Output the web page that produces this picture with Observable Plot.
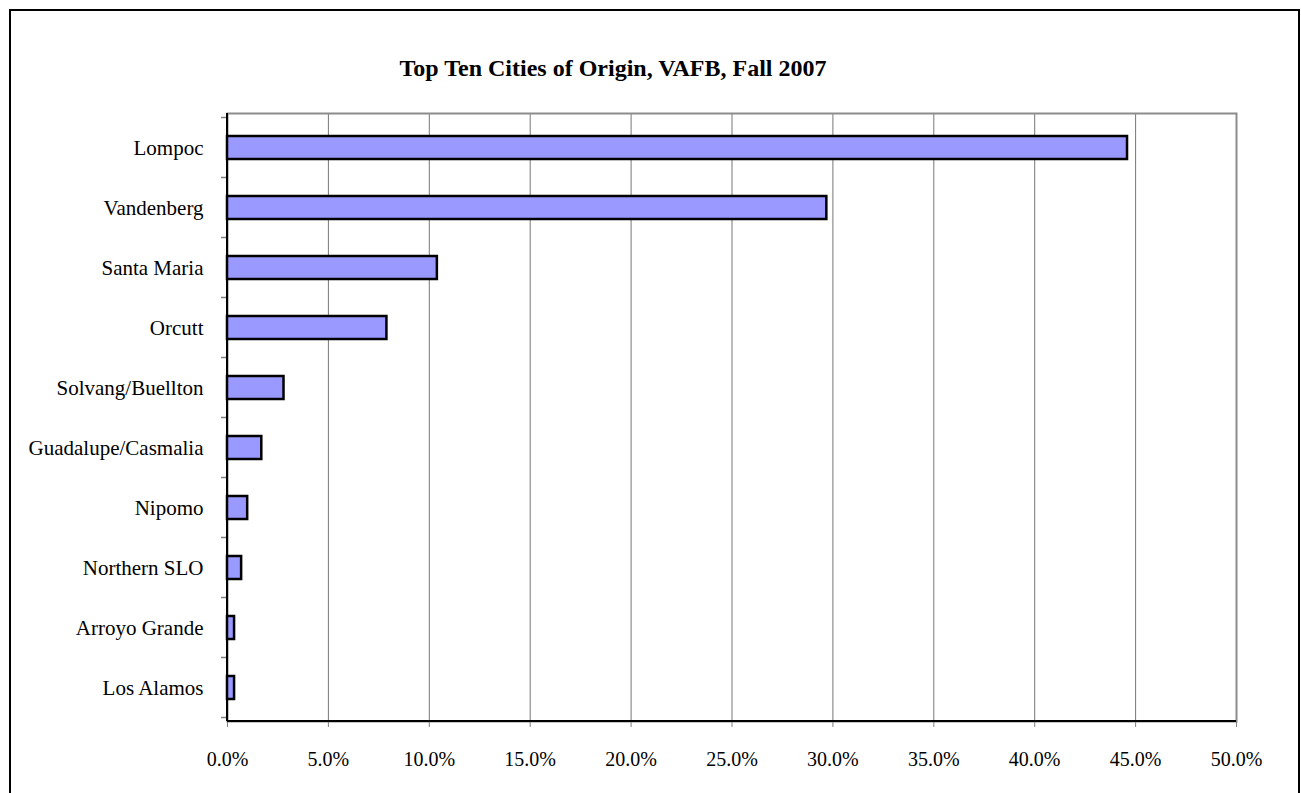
<!DOCTYPE html>
<html><head><meta charset="utf-8">
<script src="https://cdn.jsdelivr.net/npm/d3@7"></script>
<script src="https://cdn.jsdelivr.net/npm/@observablehq/plot@0.6"></script>
<style>
html,body{margin:0;padding:0;background:#fff;overflow:hidden;}
#wrap{position:relative;width:1301px;height:793px;}
#border{position:absolute;left:9px;top:9px;width:1291px;height:830px;border:2.5px solid #000;box-sizing:border-box;pointer-events:none;}
#title{position:absolute;left:0;width:1226px;top:55px;text-align:center;font:bold 24px "Liberation Serif", "Times New Roman", serif;color:#000;}
#chart{position:absolute;left:0;top:0;}
</style></head><body>
<div id="wrap"><div id="chart"></div><div id="border"></div><div id="title">Top Ten Cities of Origin, VAFB, Fall 2007</div></div>
<script>
const cities = ["Lompoc", "Vandenberg", "Santa Maria", "Orcutt", "Solvang/Buellton", "Guadalupe/Casmalia", "Nipomo", "Northern SLO", "Arroyo Grande", "Los Alamos"];
const shares = [0.446, 0.297, 0.104, 0.079, 0.028, 0.017, 0.010, 0.007, 0.0035, 0.0035];
const xTicks = [0, 0.05, 0.10, 0.15, 0.20, 0.25, 0.30, 0.35, 0.40, 0.45, 0.50];

const data = cities.map((c, i) => ({city: c, share: shares[i]}));

function axisLines(index, scales, values, dimensions) {
  const y = scales.y;
  const step = y(cities[1]) - y(cities[0]);
  const bw = typeof y.bandwidth === "function" ? y.bandwidth() : 0;
  const {marginLeft, marginTop, height, width, marginBottom, marginRight} = dimensions;
  const g = d3.create("svg:g");
  const bounds = cities.map(c => y(c) + bw / 2 - step / 2);
  bounds.push(y(cities[cities.length - 1]) + bw / 2 + step / 2);
  g.selectAll("line.t").data(bounds).join("line")
    .attr("x1", marginLeft - 6).attr("x2", marginLeft)
    .attr("y1", d => d).attr("y2", d => d)
    .attr("stroke", "#808080").attr("stroke-width", 1.5);
  g.append("line")
    .attr("x1", marginLeft).attr("x2", width - marginRight)
    .attr("y1", height - marginBottom).attr("y2", height - marginBottom)
    .attr("stroke", "#000").attr("stroke-width", 2);
  g.append("line")
    .attr("x1", marginLeft).attr("x2", marginLeft)
    .attr("y1", marginTop).attr("y2", height - marginBottom)
    .attr("stroke", "#000").attr("stroke-width", 2);
  return g.node();
}

const chart = Plot.plot({
  width: 1301,
  height: 793,
  marginLeft: 227,
  marginRight: 65,
  marginTop: 113,
  marginBottom: 72,
  style: {fontFamily: "'Liberation Serif', 'Times New Roman', serif", color: "#000", background: "transparent"},
  x: {domain: [0, 0.5], ticks: xTicks, label: null},
  y: {domain: cities, paddingInner: 0.62, paddingOuter: 0.31, label: null},
  marks: [
    Plot.gridX(xTicks, {stroke: "#777777", strokeOpacity: 1, strokeWidth: 1}),
    Plot.frame({stroke: "#8c8c8c", strokeWidth: 2}),
    Plot.barX(data, {x: "share", y: "city", fill: "#9999ff", stroke: "#000", strokeWidth: 2.5}),
    Plot.axisX(xTicks, {tickFormat: d3.format(".1%"), tickSize: 6, tickPadding: 24, stroke: "#808080", fontSize: 20, label: null}),
    Plot.axisY({tickSize: 0, tickPadding: 24, fontSize: 21, label: null}),
    axisLines
  ]
});
document.getElementById("chart").appendChild(chart);
</script>
</body></html>
